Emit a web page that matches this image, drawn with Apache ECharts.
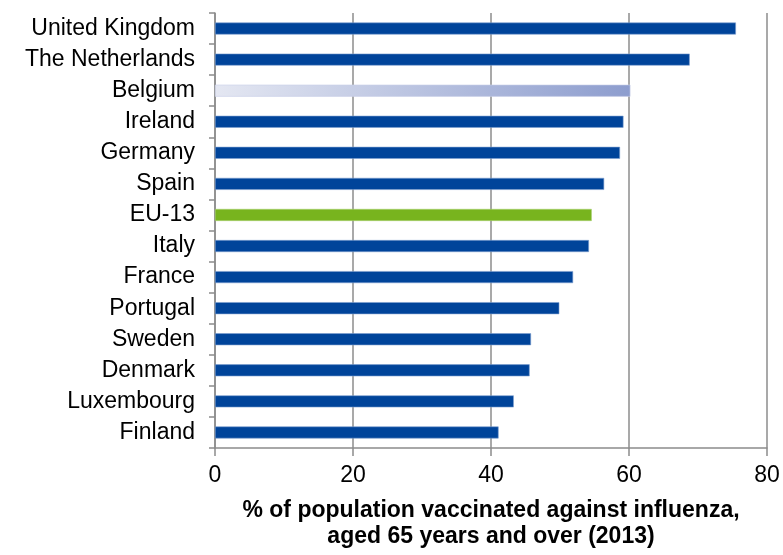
<!DOCTYPE html>
<html>
<head>
<meta charset="utf-8">
<script src="https://cdn.jsdelivr.net/npm/echarts@6/dist/echarts.min.js"></script>
<style>
html, body { margin: 0; padding: 0; background: #fff; }
#chart { width: 783px; height: 555px; }
</style>
</head>
<body>
<div id="chart"></div>
<script>
var countries = ['United Kingdom', 'The Netherlands', 'Belgium', 'Ireland', 'Germany', 'Spain', 'EU-13',
                 'Italy', 'France', 'Portugal', 'Sweden', 'Denmark', 'Luxembourg', 'Finland'];
var vaccinated = [75.5, 68.8, 60.2, 59.2, 58.7, 56.4, 54.6, 54.2, 51.9, 49.9, 45.8, 45.6, 43.3, 41.1];
var xTicks = [0, 20, 40, 60, 80];

var barBlue = '#00449a';

var chart = echarts.init(document.getElementById('chart'));

// 每个国家一根柱子, Belgium 渐变, EU-13 绿色
var barData = countries.map(function (name, i) {
  var item = { value: vaccinated[i] };
  if (name === 'Belgium') {
    item.itemStyle = {
      color: new echarts.graphic.LinearGradient(0, 0, 1, 0, [
        { offset: 0, color: '#e4e7f2' },
        { offset: 1, color: '#8d9dce' }
      ]),
      borderColor: '#c9d0e8'
    };
  } else if (name === 'EU-13') {
    item.itemStyle = { color: '#78b41e', borderColor: '#a8d070' };
  }
  return item;
});

var option = {
  animation: false,
  grid: { left: 215, right: 16, top: 13, bottom: 102, containLabel: false },
  xAxis: {
    type: 'value',
    min: xTicks[0],
    max: xTicks[xTicks.length - 1],
    interval: 20,
    name: '% of population vaccinated against influenza,\naged 65 years and over (2013)',
    nameLocation: 'middle',
    nameGap: 50,
    nameTextStyle: { fontFamily: 'Liberation Sans', fontSize: 23, fontWeight: 'bold', color: '#000', lineHeight: 26 },
    axisLine: { show: true, lineStyle: { color: '#8c8c8c', width: 1.5 } },
    axisTick: { show: true, length: 8, lineStyle: { color: '#8c8c8c', width: 1.5 } },
    axisLabel: { fontFamily: 'Liberation Sans', fontSize: 23, color: '#000', margin: 16 },
    splitLine: { show: true, lineStyle: { color: '#8c8c8c', width: 1.5 } }
  },
  yAxis: {
    type: 'category',
    data: countries,
    inverse: true,
    axisLine: { show: true, lineStyle: { color: '#8c8c8c', width: 1.5 } },
    axisTick: { show: true, length: 6, alignWithLabel: false, lineStyle: { color: '#8c8c8c', width: 1.5 } },
    axisLabel: { fontFamily: 'Liberation Sans', fontSize: 23, color: '#000', margin: 20 },
    splitLine: { show: false }
  },
  series: [{
    type: 'bar',
    data: barData,
    barWidth: 12,
    itemStyle: { color: barBlue, borderColor: '#7d9fd0', borderWidth: 0.6 }
  }]
};

chart.setOption(option);
</script>
</body>
</html>
